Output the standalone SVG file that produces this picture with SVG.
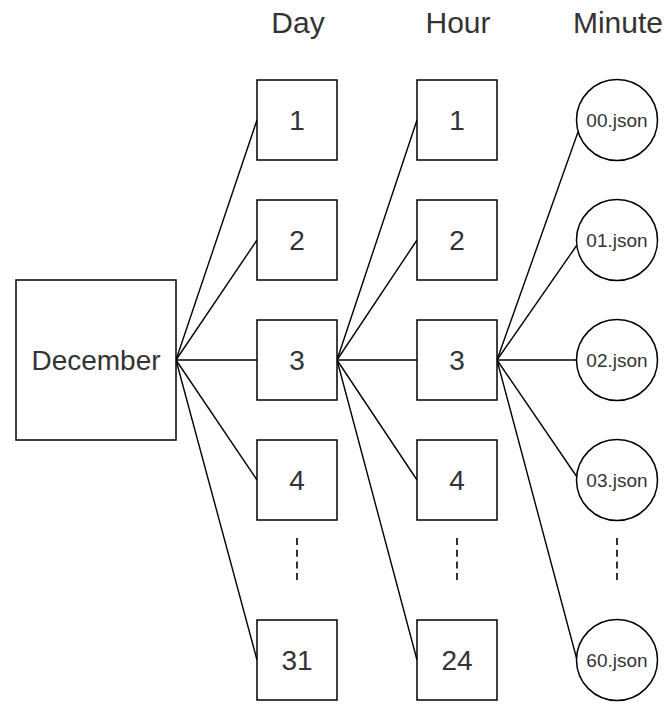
<svg xmlns="http://www.w3.org/2000/svg" width="667" height="704" viewBox="0 0 667 704">
  <style>
    .box { fill: #ffffff; stroke: #000000; stroke-width: 1.5; }
    .node-label { font-family: "Liberation Sans", Arial, sans-serif; font-size: 28px; fill: #333333; text-anchor: middle; dominant-baseline: central; }
    .file-label { font-family: "Liberation Sans", Arial, sans-serif; font-size: 19px; fill: #333333; text-anchor: middle; dominant-baseline: central; }
    .header { font-family: "Liberation Sans", Arial, sans-serif; font-size: 30px; fill: #333333; text-anchor: middle; }
    .edge { stroke: #000000; stroke-width: 1.4; fill: none; }
    .ellipsis { stroke: #000000; stroke-width: 1.6; stroke-dasharray: 7 4.7; fill: none; }
  </style>
  <rect width="667" height="704" fill="#ffffff"/>

  <!-- column headers -->
  <g id="headers">
    <text class="header" x="298" y="33">Day</text>
    <text class="header" x="458" y="33">Hour</text>
    <text class="header" x="618" y="33">Minute</text>
  </g>

  <!-- connectors -->
  <g id="connectors">
    <line class="edge" x1="176" y1="360" x2="257" y2="120"/>
    <line class="edge" x1="176" y1="360" x2="257" y2="240"/>
    <line class="edge" x1="176" y1="360" x2="257" y2="360"/>
    <line class="edge" x1="176" y1="360" x2="257" y2="480"/>
    <line class="edge" x1="176" y1="360" x2="257" y2="660"/>

    <line class="edge" x1="337" y1="360" x2="417" y2="120"/>
    <line class="edge" x1="337" y1="360" x2="417" y2="240"/>
    <line class="edge" x1="337" y1="360" x2="417" y2="360"/>
    <line class="edge" x1="337" y1="360" x2="417" y2="480"/>
    <line class="edge" x1="337" y1="360" x2="417" y2="660"/>

    <line class="edge" x1="497" y1="360" x2="578" y2="132"/>
    <line class="edge" x1="497" y1="360" x2="577" y2="245"/>
    <line class="edge" x1="497" y1="360" x2="577" y2="360"/>
    <line class="edge" x1="497" y1="360" x2="577" y2="477"/>
    <line class="edge" x1="497" y1="360" x2="577" y2="660"/>

    <line class="ellipsis" x1="297" y1="538" x2="297" y2="582"/>
    <line class="ellipsis" x1="457" y1="538" x2="457" y2="582"/>
    <line class="ellipsis" x1="617" y1="538" x2="617" y2="582"/>
  </g>

  <!-- month -->
  <g id="december">
    <rect class="box" x="16" y="280" width="160" height="160"/>
    <text class="node-label" x="96" y="360">December</text>
  </g>

  <!-- days -->
  <g id="day-1"><rect class="box" x="257" y="80" width="80" height="80"/><text class="node-label" x="297" y="120">1</text></g>
  <g id="day-2"><rect class="box" x="257" y="200" width="80" height="80"/><text class="node-label" x="297" y="240">2</text></g>
  <g id="day-3"><rect class="box" x="257" y="320" width="80" height="80"/><text class="node-label" x="297" y="360">3</text></g>
  <g id="day-4"><rect class="box" x="257" y="440" width="80" height="80"/><text class="node-label" x="297" y="480">4</text></g>
  <g id="day-31"><rect class="box" x="257" y="620" width="80" height="80"/><text class="node-label" x="297" y="660">31</text></g>

  <!-- hours -->
  <g id="hour-1"><rect class="box" x="417" y="80" width="80" height="80"/><text class="node-label" x="457" y="120">1</text></g>
  <g id="hour-2"><rect class="box" x="417" y="200" width="80" height="80"/><text class="node-label" x="457" y="240">2</text></g>
  <g id="hour-3"><rect class="box" x="417" y="320" width="80" height="80"/><text class="node-label" x="457" y="360">3</text></g>
  <g id="hour-4"><rect class="box" x="417" y="440" width="80" height="80"/><text class="node-label" x="457" y="480">4</text></g>
  <g id="hour-24"><rect class="box" x="417" y="620" width="80" height="80"/><text class="node-label" x="457" y="660">24</text></g>

  <!-- minute files -->
  <g id="min-00"><circle class="box" cx="617" cy="120" r="40.5"/><text class="file-label" x="617" y="120">00.json</text></g>
  <g id="min-01"><circle class="box" cx="617" cy="240" r="40.5"/><text class="file-label" x="617" y="240">01.json</text></g>
  <g id="min-02"><circle class="box" cx="617" cy="360" r="40.5"/><text class="file-label" x="617" y="360">02.json</text></g>
  <g id="min-03"><circle class="box" cx="617" cy="480" r="40.5"/><text class="file-label" x="617" y="480">03.json</text></g>
  <g id="min-60"><circle class="box" cx="617" cy="660" r="40.5"/><text class="file-label" x="617" y="660">60.json</text></g>
</svg>
